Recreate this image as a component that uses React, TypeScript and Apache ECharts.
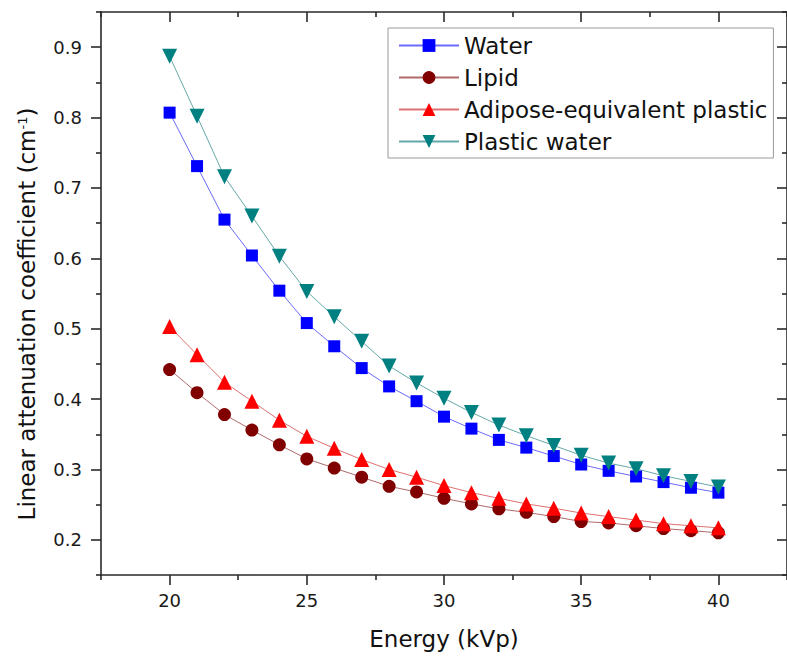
import React, { useEffect, useRef } from "react";
import * as echarts from "echarts";

const energy = [20, 21, 22, 23, 24, 25, 26, 27, 28, 29, 30, 31, 32, 33, 34, 35, 36, 37, 38, 39, 40];
const water = [0.807, 0.731, 0.655, 0.604, 0.554, 0.508, 0.475, 0.444, 0.418, 0.397, 0.375, 0.358, 0.342, 0.331, 0.319, 0.307, 0.298, 0.290, 0.282, 0.274, 0.267];
const lipid = [0.442, 0.409, 0.378, 0.356, 0.335, 0.315, 0.302, 0.289, 0.276, 0.268, 0.259, 0.251, 0.244, 0.239, 0.233, 0.226, 0.224, 0.220, 0.216, 0.213, 0.210];
const adipose = [0.503, 0.463, 0.424, 0.397, 0.370, 0.347, 0.330, 0.314, 0.300, 0.289, 0.277, 0.267, 0.259, 0.251, 0.245, 0.238, 0.233, 0.228, 0.223, 0.220, 0.217];
const plasticWater = [0.887, 0.802, 0.716, 0.660, 0.603, 0.553, 0.517, 0.482, 0.447, 0.423, 0.401, 0.381, 0.363, 0.348, 0.334, 0.320, 0.309, 0.301, 0.291, 0.283, 0.275];

const seriesNames = ["Water", "Lipid", "Adipose-equivalent plastic", "Plastic water"];

const xMajorTicks = [20, 25, 30, 35, 40];
const xMinorTicks = [17.5, 22.5, 27.5, 32.5, 37.5, 42.5];
const yMajorTicks = [0.2, 0.3, 0.4, 0.5, 0.6, 0.7, 0.8, 0.9];
const yMinorTicks = [0.15, 0.25, 0.35, 0.45, 0.55, 0.65, 0.75, 0.85, 0.95];

const X_MIN = 17.5;
const X_MAX = 42.5;
const Y_MIN = 0.15;
const Y_MAX = 0.95;

const FONT = "DejaVu Sans";
const AXIS_COLOR = "#2a2a2a";

export default function App() {
  const ref = useRef<HTMLDivElement>(null);

  useEffect(() => {
    if (!ref.current) return;
    const chart = echarts.init(ref.current, null, { renderer: "svg" });

    const axisLineStyle = { show: true, lineStyle: { color: AXIS_COLOR, width: 1.6 } };

    const makeX = (position: string, ticks: number[], len: number, inside: boolean, showLine: boolean, labels: boolean) => ({
      type: "value",
      min: X_MIN,
      max: X_MAX,
      position,
      axisLine: showLine ? axisLineStyle : { show: false },
      axisTick: { show: true, customValues: ticks, length: len, inside, lineStyle: { color: AXIS_COLOR, width: 1.6 } },
      axisLabel: labels
        ? { show: true, customValues: xMajorTicks, margin: 16, fontSize: 18, fontFamily: FONT, color: "#1a1a1a" }
        : { show: false },
      splitLine: { show: false },
      minorTick: { show: false },
    });

    const makeY = (position: string, ticks: number[], len: number, inside: boolean, showLine: boolean, labels: boolean) => ({
      type: "value",
      min: Y_MIN,
      max: Y_MAX,
      position,
      axisLine: showLine ? axisLineStyle : { show: false },
      axisTick: { show: true, customValues: ticks, length: len, inside, lineStyle: { color: AXIS_COLOR, width: 1.6 } },
      axisLabel: labels
        ? {
            show: true,
            customValues: yMajorTicks,
            margin: 19,
            fontSize: 18,
            fontFamily: FONT,
            color: "#1a1a1a",
            formatter: (v: number) => v.toFixed(1),
          }
        : { show: false },
      splitLine: { show: false },
      minorTick: { show: false },
    });

    const xBottom: any = makeX("bottom", xMajorTicks, 10, false, true, true);
    xBottom.name = "Energy (kVp)";
    xBottom.nameLocation = "middle";
    xBottom.nameGap = 52;
    xBottom.nameTextStyle = { fontSize: 23, fontFamily: FONT, color: "#111" };

    const mk = (name: string, vals: number[], color: string, lineColor: string, symbol: string, size: number, rotate = 0) => ({
      name,
      type: "line",
      xAxisIndex: 0,
      yAxisIndex: 0,
      data: energy.map((e, i) => [e, vals[i]]),
      symbol,
      symbolSize: size,
      symbolRotate: rotate,
      showAllSymbol: true,
      lineStyle: { color: lineColor, width: 1 },
      itemStyle: { color },
      emphasis: { disabled: true },
    });

    chart.setOption({
      animation: false,
      backgroundColor: "#ffffff",
      grid: { left: 101, top: 12, right: -9, bottom: 82, containLabel: false },
      xAxis: [
        xBottom,
        makeX("bottom", xMinorTicks, 5, false, false, false),
        makeX("top", xMajorTicks, 10, true, true, false),
        makeX("top", xMinorTicks, 5, true, false, false),
      ],
      yAxis: [
        makeY("left", yMajorTicks, 10, false, true, true),
        makeY("left", yMinorTicks, 5, false, false, false),
        makeY("right", yMajorTicks, 10, true, true, false),
        makeY("right", yMinorTicks, 5, true, false, false),
      ],
      legend: {
        show: true,
        orient: "vertical",
        left: 388,
        top: 28,
        padding: [6, 6, 5, 10],
        itemGap: 9,
        itemWidth: 60,
        itemHeight: 16,
        borderColor: "#999",
        borderWidth: 1,
        backgroundColor: "#fff",
        textStyle: { fontSize: 23, fontFamily: FONT, color: "#111", padding: [0, 0, 0, 0] },
        data: seriesNames,
      },
      graphic: [
        {
          type: "text",
          x: 27,
          y: 314,
          rotation: Math.PI / 2,
          style: {
            text: "{a|Linear attenuation coefficient (cm}{s|-1}{a|)}",
            align: "center",
            verticalAlign: "middle",
            fontFamily: FONT,
            fill: "#111",
            rich: {
              a: { fontSize: 23, fontFamily: FONT, fill: "#111" },
              s: { fontSize: 13, fontFamily: FONT, fill: "#111", verticalAlign: "top" },
            },
          },
        },
      ],
      series: [
        mk(seriesNames[0], water, "#0000ff", "#6a6aff", "rect", 12),
        mk(seriesNames[1], lipid, "#800000", "#b06a6a", "circle", 13),
        mk(seriesNames[2], adipose, "#ff0000", "#e07070", "triangle", 15),
        mk(seriesNames[3], plasticWater, "#008080", "#66a8a8", "triangle", 15, 180),
      ],
    });

    return () => chart.dispose();
  }, []);

  return (
    <div
      ref={ref}
      style={{ position: "absolute", left: 0, top: 0, width: 787, height: 657, background: "#fff" }}
    />
  );
}
